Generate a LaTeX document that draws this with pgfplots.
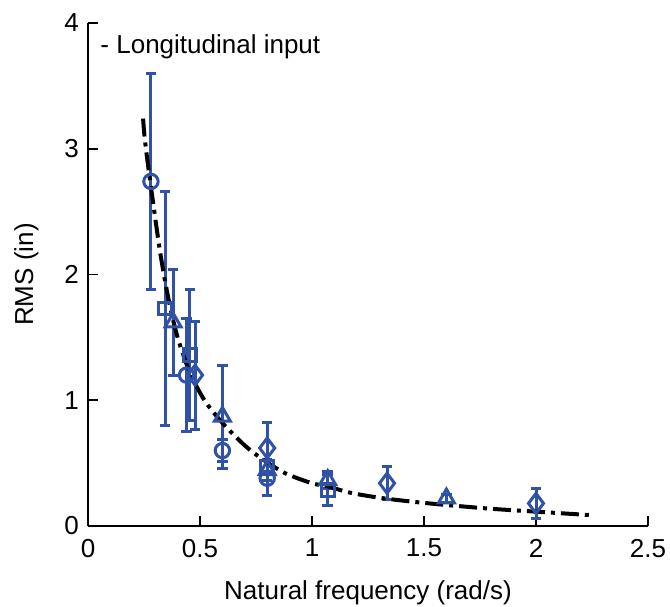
\documentclass[border=0pt]{standalone}
\usepackage{pgfplots}
\usepackage{pgfplotstable}
\pgfplotsset{compat=1.18}
\usepackage{fontspec}
\setmainfont{Liberation Sans}
\definecolor{mblue}{RGB}{47,82,166}

\pgfplotstableread{
x y e
0.281 2.74 0.86
0.44 1.20 0.45
0.60 0.60 0.09
0.80 0.38 0.14
}\circles
\pgfplotstableread{
x y e
0.344 1.73 0.93
0.455 1.36 0.52
0.80 0.47 0.05
1.07 0.286 0.12
}\squares
\pgfplotstableread{
x y e
0.38 1.62 0.42
0.60 0.87 0.41
0.80 0.445 0.08
1.07 0.366 0.07
1.60 0.22 0.03
}\triangles
\pgfplotstableread{
x y e
0.478 1.20 0.43
0.80 0.62 0.20
1.335 0.34 0.13
2.00 0.18 0.12
}\diamonds
\pgfplotstableread{
x y
0.246 3.24
0.254 3.07
0.277 2.75
0.321 2.19
0.36 1.80
0.40 1.50
0.455 1.22
0.52 1.00
0.60 0.82
0.70 0.64
0.78 0.53
0.88 0.42
1.00 0.34
1.07 0.315
1.17 0.265
1.30 0.225
1.45 0.193
1.60 0.167
1.80 0.137
2.00 0.114
2.24 0.087
}\fitcurve

\pgfplotsset{
  ebar/.style={draw=none, mark=none, forget plot,
    error bars/.cd, y dir=both, y explicit,
    error bar style={draw=mblue, line width=1.5pt},
    error mark options={rotate=90, mark size=2.6pt, line width=1.5pt, draw=mblue}},
}

\begin{document}
\fontsize{13}{15.6}\selectfont
\begin{tikzpicture}
\begin{axis}[
  scale only axis,
  width=280pt, height=251.5pt,
  xmin=0, xmax=2.5, ymin=0, ymax=4,
  axis x line*=bottom, axis y line*=left,
  x axis line style={-, line width=1pt},
  y axis line style={-, line width=1pt},
  tick align=inside,
  major tick length=5pt,
  tick style={black, line width=0.8pt},
  xtick={0,0.5,1,1.5,2,2.5},
  ytick={0,1,2,3,4},
  xticklabels={0,0.5,1,1.5,2,2.5},
  yticklabels={0,1,2,3,4},
  xticklabel style={yshift=-2pt},
  /pgf/number format/assume math mode=true,
  tick label style={font=\fontsize{13}{15.6}\selectfont},
  label style={font=\fontsize{13}{15.6}\selectfont},
  xlabel={Natural frequency (rad/s)},
  ylabel={RMS (in)},
  xlabel style={at={(axis description cs:0.5,-0.147)}, anchor=base},
  ylabel style={at={(axis description cs:-0.0982,0.5)}, anchor=base},
  clip=false,
]
% error bars
\addplot[ebar] table[x=x, y=y, y error=e] {\circles};
\addplot[ebar] table[x=x, y=y, y error=e] {\squares};
\addplot[ebar] table[x=x, y=y, y error=e] {\triangles};
\addplot[ebar] table[x=x, y=y, y error=e] {\diamonds};
% markers
\addplot[only marks, mark=o, mark size=3.6pt, mark options={draw=mblue, fill=white, line width=1.5pt}] table[x=x,y=y] {\circles};
\addplot[only marks, mark=square, mark size=3.2pt, mark options={draw=mblue, fill=white, line width=1.5pt}] table[x=x,y=y] {\squares};
\addplot[only marks, mark=triangle, mark size=4.6pt, mark options={draw=mblue, fill=white, line width=1.5pt}] table[x=x,y=y] {\triangles};
\addplot[only marks, mark=diamond, mark size=5pt, mark options={draw=mblue, fill=white, line width=1.5pt}] table[x=x,y=y] {\diamonds};
% fitted curve
\addplot[black, line width=2pt, dash pattern=on 9pt off 3pt on 2pt off 3pt, mark=none, smooth] table[x=x,y=y] {\fitcurve};
\node[anchor=base west, inner sep=0pt, font=\fontsize{13}{15.6}\selectfont] at (axis cs:0.054,3.76) {- Longitudinal input};
\end{axis}
\pgfresetboundingbox
\path (-44pt,-40pt) rectangle (291pt,263pt);
\end{tikzpicture}
\end{document}
